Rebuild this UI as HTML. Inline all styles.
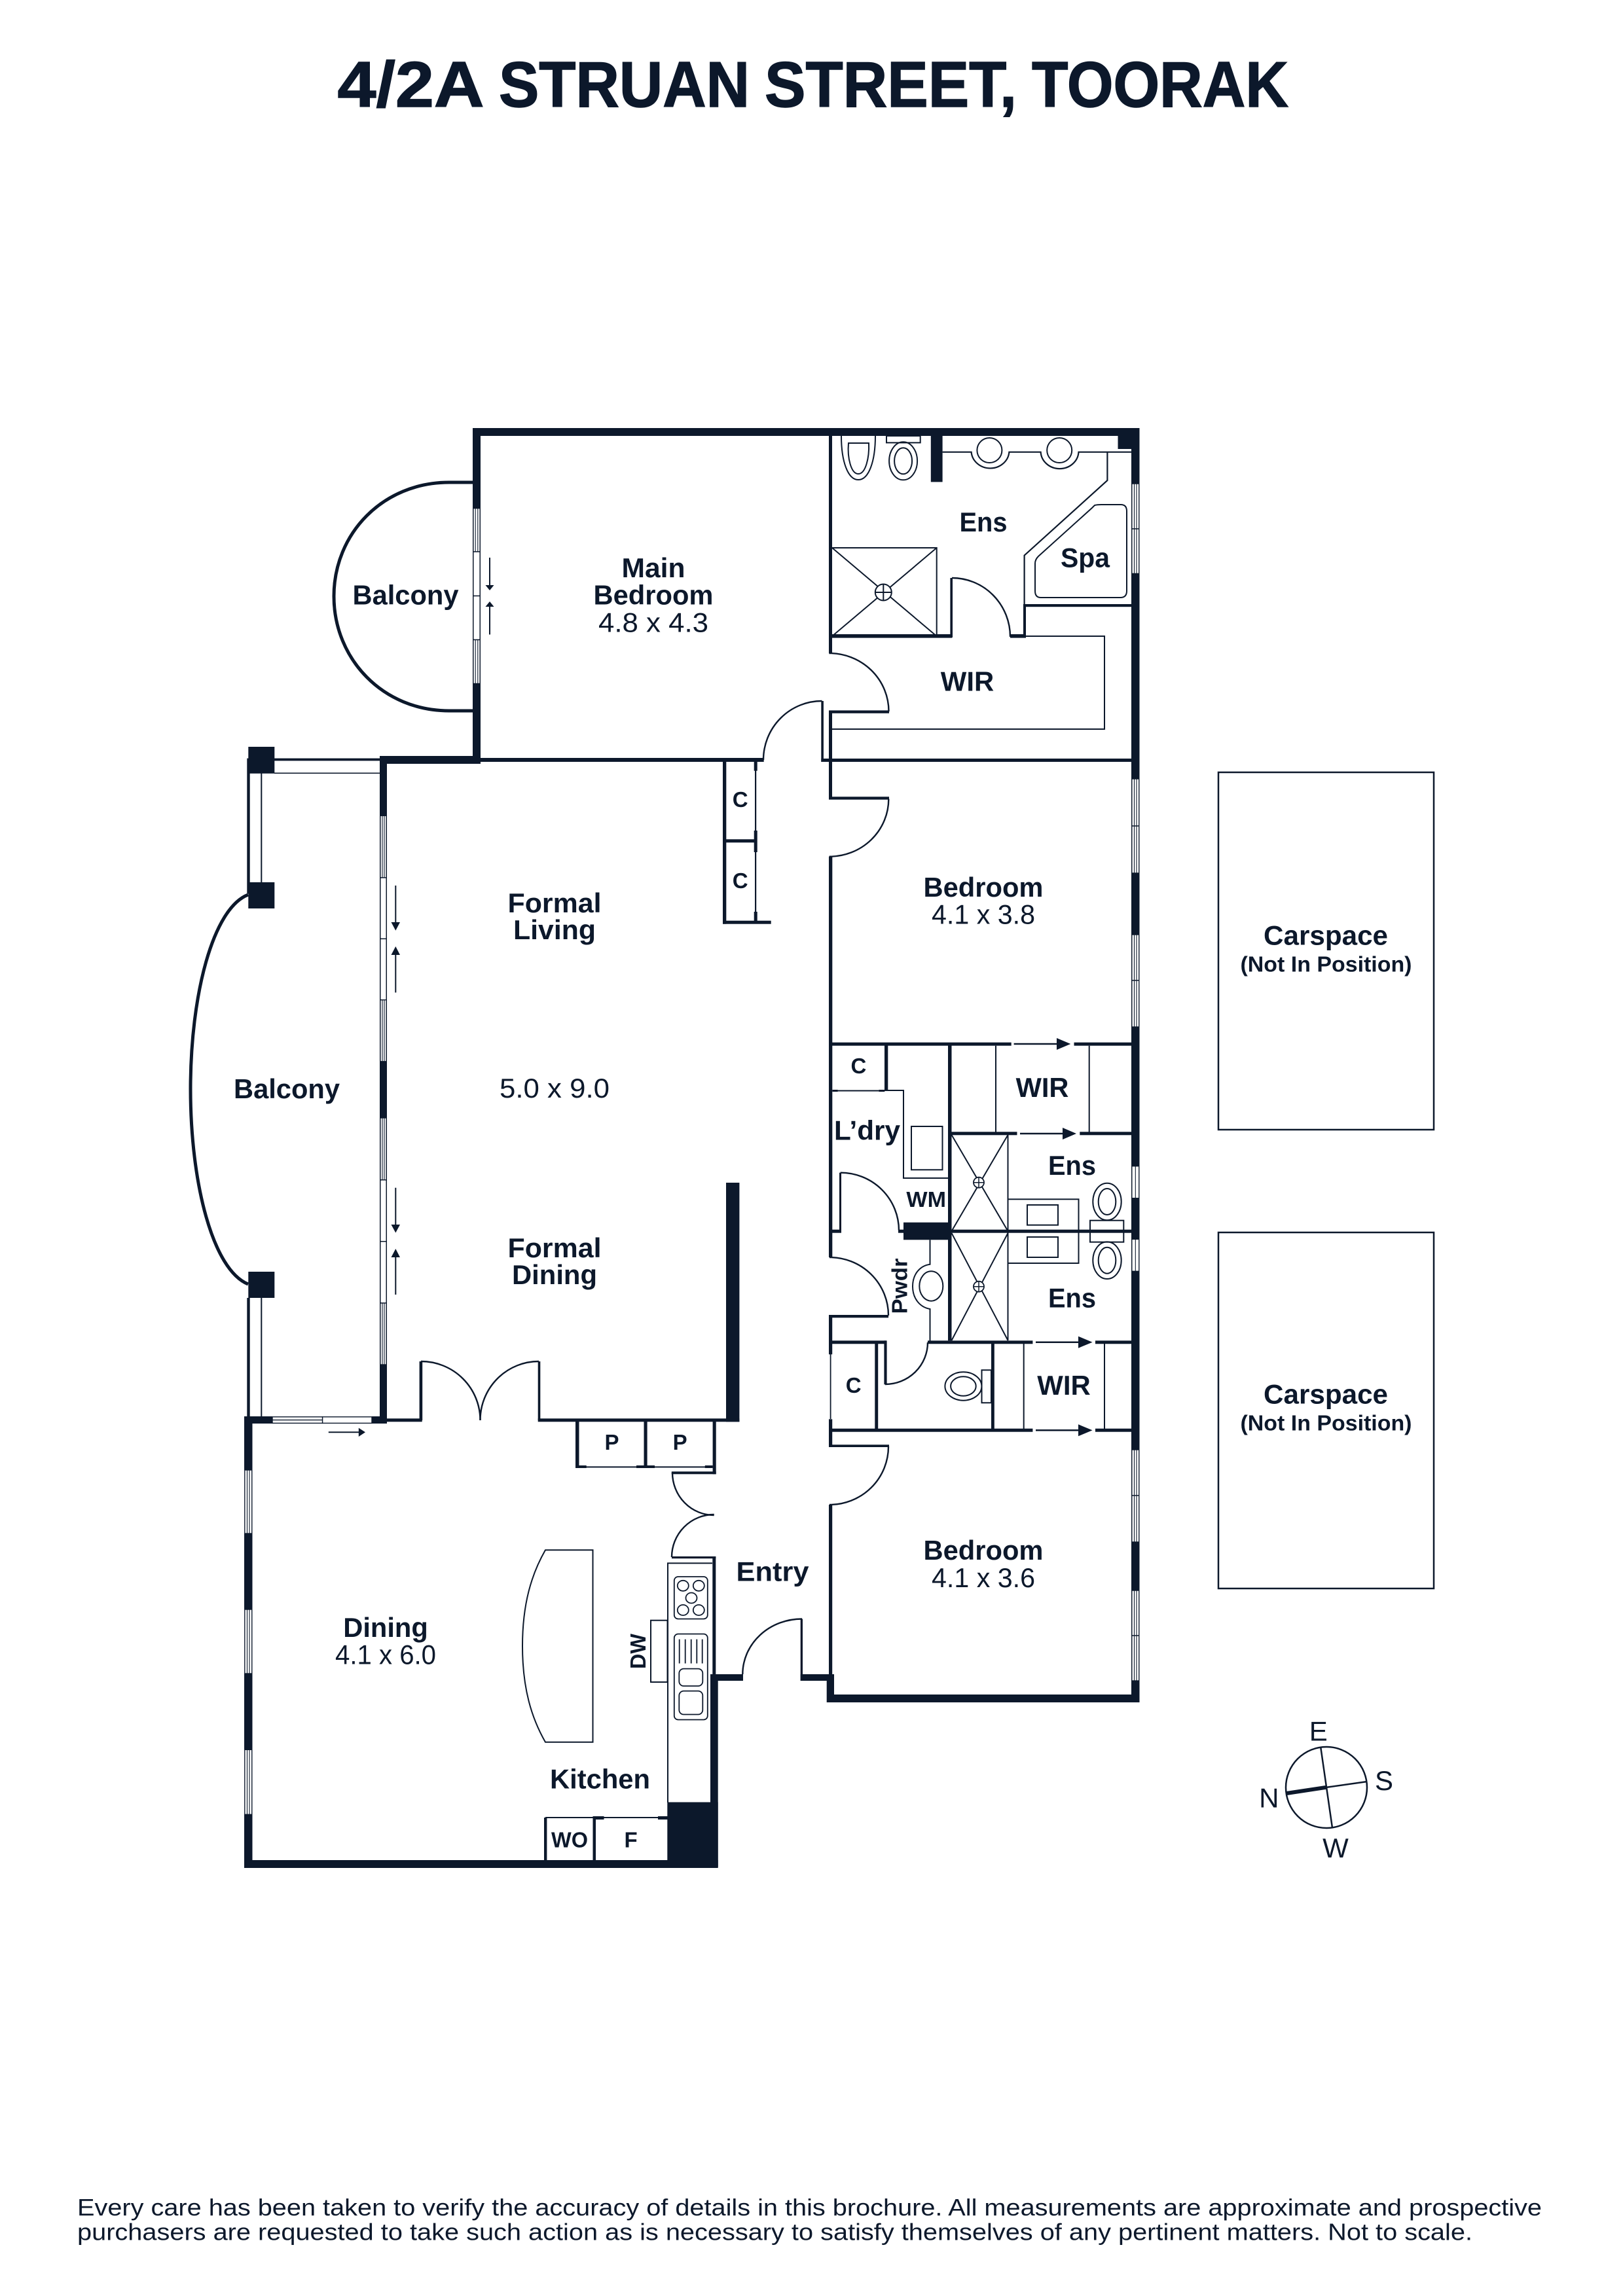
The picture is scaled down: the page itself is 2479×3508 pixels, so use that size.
<!DOCTYPE html>
<html><head><meta charset="utf-8"><title>4/2A Struan Street, Toorak</title>
<style>
html,body{margin:0;padding:0;background:#fff}
svg{display:block}
text{font-family:"Liberation Sans",sans-serif;fill:#0c182b}
.b{font-weight:bold;font-size:42px;text-anchor:middle}
.r{font-size:42px;text-anchor:middle}
.s{font-weight:bold;font-size:33px;text-anchor:middle}
.t{font-weight:bold;font-size:98px;stroke:#0c182b;stroke-width:1.5}
</style></head><body>
<svg width="2479" height="3508" viewBox="0 0 2479 3508" xmlns="http://www.w3.org/2000/svg">
<rect width="2479" height="3508" fill="#fff"/>

<text class="t" x="515.500" y="163" textLength="224" lengthAdjust="spacingAndGlyphs">4/2A</text>
<text class="t" x="762" y="163" textLength="383" lengthAdjust="spacingAndGlyphs">STRUAN</text>
<text class="t" x="1168" y="163" textLength="385" lengthAdjust="spacingAndGlyphs">STREET,</text>
<text class="t" x="1576" y="163" textLength="392" lengthAdjust="spacingAndGlyphs">TOORAK</text>

<!-- solid walls -->
<g fill="#0c182b">
<rect x="722" y="654" width="1018.500" height="12"/>
<rect x="722" y="654" width="12" height="513"/>
<rect x="580" y="1155" width="154" height="12"/>
<rect x="734" y="1158" width="432.700" height="6"/>
<rect x="580" y="1155" width="11" height="1017"/>
<rect x="1728" y="654" width="12.500" height="1947"/>
<rect x="1707.500" y="666" width="21" height="20"/>
<rect x="1421.800" y="666" width="17.800" height="70.400"/>
<rect x="1266" y="666" width="5" height="332"/>
<rect x="1266" y="1085.400" width="92" height="4.400"/>
<rect x="1266" y="1087" width="5" height="133"/>
<rect x="1254.300" y="1071" width="3.600" height="93"/>
<rect x="1254.300" y="1159" width="474" height="5"/>
<rect x="1271" y="969" width="183" height="5.600"/>
<rect x="1451.400" y="883" width="3.600" height="91"/>
<rect x="1543" y="969" width="24" height="5.600"/>
<rect x="1563" y="923" width="4" height="51"/>
<rect x="1563" y="923" width="165" height="4.200"/>

<!-- cupboards by hall -->
<rect x="1104" y="1161" width="5.300" height="250.700"/>
<rect x="1104" y="1406.700" width="73.700" height="5"/>
<rect x="1109" y="1282.300" width="47" height="5"/>
<rect x="1153" y="1163" width="2.200" height="244"/>
<rect x="1151.700" y="1163" width="5" height="14.700"/>
<rect x="1151.700" y="1269" width="5" height="33"/>
<rect x="1151.700" y="1393" width="5" height="14"/>

<rect x="1266" y="1217.300" width="92" height="4.400"/>
<rect x="1266" y="1308.700" width="5.300" height="612.300"/>

<!-- laundry / WIR block -->
<rect x="1266" y="1592.700" width="278.700" height="5"/>
<rect x="1640.500" y="1592.700" width="88.500" height="5"/>
<rect x="1351" y="1597" width="5.300" height="70"/>
<rect x="1271.400" y="1665" width="8.400" height="3"/>
<rect x="1342.300" y="1665" width="9" height="3"/>
<rect x="1448" y="1597" width="5.500" height="451.300"/>
<rect x="1453.500" y="1729.300" width="100" height="5"/>
<rect x="1649.300" y="1729.300" width="79.700" height="5"/>
<rect x="1453.500" y="1878.700" width="275.500" height="5"/>
<rect x="1282" y="1791.700" width="3" height="90"/>
<rect x="1271" y="1878.700" width="14" height="5"/>
<rect x="1372" y="1878.700" width="8" height="5"/>
<rect x="1380" y="1867.700" width="73.500" height="26.600"/>
<rect x="1266" y="2009" width="91" height="4.300"/>
<rect x="1266" y="2009" width="5.200" height="60.300"/>
<rect x="1271" y="2048.300" width="82.500" height="5"/>
<rect x="1350.400" y="2048.300" width="4.200" height="67"/>
<rect x="1417" y="2048.300" width="160.400" height="5"/>
<rect x="1673" y="2048.300" width="56" height="5"/>
<rect x="1336.300" y="2053" width="4.900" height="130"/>
<rect x="1266" y="2182.700" width="311.400" height="5"/>
<rect x="1673" y="2182.700" width="56" height="5"/>
<rect x="1514" y="2053" width="4.800" height="130"/>
<rect x="1266" y="2168.300" width="5.200" height="42"/>
<rect x="1266" y="2207.300" width="92" height="3.700"/>
<rect x="1266" y="2299" width="5.200" height="290"/>
<rect x="1263" y="2589" width="477.500" height="12"/>
<rect x="1262.700" y="2558" width="11.300" height="43"/>

<!-- centre / dining -->
<rect x="1109" y="1807" width="20.400" height="365.300"/>
<rect x="568" y="2164" width="23" height="11"/>
<rect x="373" y="2164" width="43" height="11"/>
<rect x="373" y="2164" width="12.500" height="82"/>
<rect x="373" y="2343" width="12.500" height="116"/>
<rect x="373" y="2557" width="12.500" height="116.300"/>
<rect x="373" y="2772.300" width="12.500" height="81.700"/>
<rect x="373" y="2842" width="723.700" height="12"/>
<rect x="591" y="2167.300" width="53.700" height="5"/>
<rect x="640.600" y="2080" width="4.600" height="90"/>
<rect x="821.700" y="2080" width="3.600" height="90"/>
<rect x="821.700" y="2167.300" width="307.700" height="5"/>
<rect x="879" y="2172" width="5.500" height="71"/>
<rect x="983.500" y="2172" width="5.100" height="70"/>
<rect x="1088.600" y="2172" width="5.100" height="80.300"/>
<rect x="1025.800" y="2248.300" width="67.900" height="4"/>
<rect x="879" y="2239" width="16.700" height="4"/>
<rect x="972" y="2239" width="28" height="4"/>
<rect x="1076.800" y="2239" width="11.800" height="4"/>
<rect x="884" y="2240.400" width="200" height="2"/>
<rect x="1026" y="2378" width="67.300" height="3.200"/>
<rect x="1088.300" y="2378" width="5" height="180"/>
<rect x="1085" y="2558" width="11.700" height="294.500"/>
<rect x="1093" y="2558" width="42" height="10"/>
<rect x="1222.700" y="2473.500" width="3.300" height="94.500"/>
<rect x="1222.700" y="2558" width="51" height="10"/>
<rect x="1019.300" y="2753.500" width="77.400" height="99"/>
<rect x="831" y="2777" width="4.400" height="70"/>
<rect x="905.500" y="2777" width="4.500" height="70"/>
<rect x="905.500" y="2775" width="17" height="5"/>
<rect x="1005" y="2775" width="14.800" height="5"/>
<rect x="833" y="2776" width="186" height="2"/>

<!-- balcony pillars -->
<rect x="379.300" y="1141" width="40" height="40.800"/>
<rect x="379.300" y="1348" width="40" height="40"/>
<rect x="379.300" y="1943" width="40" height="40"/>
<rect x="377.300" y="1158.600" width="4.400" height="207"/>
<rect x="377.300" y="1983" width="4.400" height="182"/>
<rect x="398.300" y="1181" width="2" height="167"/>
<rect x="398.300" y="1983" width="2" height="182"/>
<rect x="419" y="1158.600" width="161" height="3.800"/>
<rect x="419" y="1180.500" width="161" height="1.600"/>
</g>

<!-- windows -->
<g fill="#fff" stroke="#0c182b" stroke-width="1.400">
<rect x="722.800" y="776.600" width="10.400" height="66.400"/><path d="M726.200 776.600V843M729.800 776.600V843" stroke-width="1.100"/>
<rect x="722.800" y="843" width="10.400" height="67.500"/>
<rect x="722.800" y="910.500" width="10.400" height="67"/>
<rect x="722.800" y="977.500" width="10.400" height="67"/><path d="M726.200 977.500V1044.500M729.800 977.500V1044.500" stroke-width="1.100"/>

<rect x="580.800" y="1246.300" width="9.400" height="94.700"/><path d="M584 1246.300V1341M587 1246.300V1341" stroke-width="1.100"/>
<rect x="580.800" y="1341" width="9.400" height="93.400"/>
<rect x="580.800" y="1434.400" width="9.400" height="93.300"/>
<rect x="580.800" y="1527.700" width="9.400" height="94.100"/><path d="M584 1527.700V1621.800M587 1527.700V1621.800" stroke-width="1.100"/>
<rect x="580.800" y="1708" width="9.400" height="94.800"/><path d="M584 1708V1802.800M587 1708V1802.800" stroke-width="1.100"/>
<rect x="580.800" y="1802.800" width="9.400" height="94"/>
<rect x="580.800" y="1896.800" width="9.400" height="94.100"/>
<rect x="580.800" y="1990.900" width="9.400" height="94.100"/><path d="M584 1990.900V2085M587 1990.900V2085" stroke-width="1.100"/>

<rect x="1728.800" y="739" width="11" height="69"/><path d="M1732.500 739V808M1736 739V808" stroke-width="1.100"/>
<rect x="1728.800" y="808" width="11" height="68.400"/><path d="M1732.500 808V876.400M1736 808V876.400" stroke-width="1.100"/>
<rect x="1728.800" y="1190" width="11" height="72"/><path d="M1732.500 1190V1262M1736 1190V1262" stroke-width="1.100"/>
<rect x="1728.800" y="1262" width="11" height="72"/><path d="M1732.500 1262V1334M1736 1262V1334" stroke-width="1.100"/>
<rect x="1728.800" y="1428" width="11" height="70"/><path d="M1732.500 1428V1498M1736 1428V1498" stroke-width="1.100"/>
<rect x="1728.800" y="1498" width="11" height="71"/><path d="M1732.500 1498V1569M1736 1498V1569" stroke-width="1.100"/>
<rect x="1728.800" y="1781.700" width="11" height="49"/><path d="M1734.300 1781.700V1830.700" stroke-width="1.100"/>
<rect x="1728.800" y="1893.300" width="11" height="49"/><path d="M1734.300 1893.300V1942.300" stroke-width="1.100"/>
<rect x="1728.800" y="2215" width="11" height="70"/><path d="M1732.500 2215V2285M1736 2215V2285" stroke-width="1.100"/>
<rect x="1728.800" y="2285" width="11" height="71"/><path d="M1732.500 2285V2356M1736 2285V2356" stroke-width="1.100"/>
<rect x="1728.800" y="2430" width="11" height="69"/><path d="M1732.500 2430V2499M1736 2430V2499" stroke-width="1.100"/>
<rect x="1728.800" y="2499" width="11" height="69"/><path d="M1732.500 2499V2568M1736 2499V2568" stroke-width="1.100"/>

<rect x="373.800" y="2246" width="11" height="97"/><path d="M377.500 2246V2343M381 2246V2343" stroke-width="1.100"/>
<rect x="373.800" y="2459" width="11" height="98"/><path d="M377.500 2459V2557M381 2459V2557" stroke-width="1.100"/>
<rect x="373.800" y="2673.300" width="11" height="99"/><path d="M377.500 2673.300V2772.300M381 2673.300V2772.300" stroke-width="1.100"/>

<rect x="416" y="2164.800" width="76.600" height="9.600"/><path d="M416 2169.600H492.600"/>
<rect x="492.600" y="2164.800" width="75.400" height="9.600"/>
</g>

<!-- thin lines and curves -->
<g fill="none" stroke="#0c182b" stroke-width="2.400">
<path d="M722 737H686C585 737 510 815 510 911C510 1007 585 1086 686 1086H722" stroke-width="5"/>
<path d="M379 1367C325 1388 291 1520 291 1664C291 1808 325 1940 379 1962" stroke-width="5"/>

<!-- doors -->
<path d="M1166 1161A89.500 90 0 0 1 1255.500 1071"/>
<path d="M1454 883A89 90 0 0 1 1543 973"/>
<path d="M1266.400 998A91 89 0 0 1 1357.500 1087"/>
<path d="M1357.300 1220.700A90.600 88 0 0 1 1266.700 1308.700"/>
<path d="M1283.700 1791.700A89.300 88.300 0 0 1 1373 1880"/>
<path d="M1267 1921A90 89 0 0 1 1357 2010"/>
<path d="M1352 2115A65 64 0 0 0 1417 2051"/>
<path d="M1357 2210A90 89 0 0 1 1267 2299"/>
<path d="M1134.300 2558A90.700 84.500 0 0 1 1225 2473.500"/>
<path d="M1027 2250A63.600 65 0 0 0 1090.600 2315"/>
<path d="M1090.700 2314A64.700 65 0 0 0 1026 2379"/>
<path d="M643 2080A90.500 90 0 0 1 733.500 2170"/>
<path d="M823 2080A89.500 90 0 0 0 733.500 2170"/>

<!-- main ensuite -->
<path d="M1567 972H1687V1114H1271" stroke-width="2"/>
<path d="M1271 837H1430.700V972M1271 837L1430.700 972M1430.700 837L1271 972" stroke-width="2"/>
<circle cx="1349.300" cy="905" r="12.500" fill="#fff" stroke-width="2"/>
<path d="M1336.800 905H1361.800M1349.300 892.500V917.500" stroke-width="2"/>
<path d="M1564.600 923V848.600L1691.400 734V690.700H1728M1439.600 690.700H1483.600A29 27 0 0 0 1541.400 690.700H1589.600A29 27 0 0 0 1647.500 690.700H1691.400" stroke-width="2.200"/>
<circle cx="1511.400" cy="688" r="19" stroke-width="2"/>
<circle cx="1618.200" cy="688" r="19" stroke-width="2"/>
<path d="M1285 666C1285 705 1295 733 1311 733C1327 733 1337 705 1337 666" stroke-width="2"/>
<path d="M1296 677H1327C1328 700 1322 724 1311 724C1300 724 1294 700 1296 677Z" stroke-width="2"/>
<rect x="1354" y="666" width="51.700" height="10.400" stroke-width="2"/>
<ellipse cx="1379.600" cy="704.300" rx="21.500" ry="29" stroke-width="2"/>
<ellipse cx="1379.600" cy="704.300" rx="13.500" ry="20" stroke-width="2"/>
<path d="M1672 772Q1676 771 1682 771H1712Q1721 771 1721 781V903Q1721 913 1711 913H1590Q1581 913 1581 903V861Q1581 855 1586 850L1668 776Z" stroke-width="2"/>

<!-- laundry etc -->
<path d="M1279.800 1666.500H1342.300M1356 1666H1380V1800H1448" stroke-width="2"/>
<rect x="1392" y="1721" width="47.500" height="66.300" stroke-width="2"/>
<path d="M1521 1597.700V1730M1663.700 1597.700V1730" stroke-width="2"/>
<path d="M1539.500 1734V2048M1453.500 1734L1539.500 1881M1539.500 1734L1453.500 1881M1453.500 1884L1539.500 2048M1539.500 1884L1453.500 2048" stroke-width="2"/>
<circle cx="1495" cy="1806.700" r="8" fill="#fff" stroke-width="1.800"/>
<path d="M1487 1806.700H1503M1495 1798.700V1814.700" stroke-width="1.500"/>
<circle cx="1495" cy="1965.700" r="8" fill="#fff" stroke-width="1.800"/>
<path d="M1487 1965.700H1503M1495 1957.700V1973.700" stroke-width="1.500"/>
<rect x="1539.500" y="1832.300" width="108" height="97.700" stroke-width="2"/>
<rect x="1569" y="1841" width="47" height="30.700" stroke-width="2"/>
<rect x="1569" y="1890" width="47" height="31" stroke-width="2"/>
<rect x="1665" y="1864.700" width="51.300" height="33" stroke-width="2"/>
<ellipse cx="1691" cy="1836" rx="21.700" ry="28.300" stroke-width="2"/>
<ellipse cx="1691" cy="1836" rx="13.300" ry="20" stroke-width="2"/>
<ellipse cx="1691" cy="1925.700" rx="21.700" ry="28.300" stroke-width="2"/>
<ellipse cx="1691" cy="1925.700" rx="13.300" ry="20" stroke-width="2"/>
<path d="M1420.500 1894.300V1931.700C1404 1934 1394 1948 1394 1965.500C1394 1983 1404 1997 1420.500 2000V2049" stroke-width="2"/>
<ellipse cx="1422.300" cy="1965" rx="18" ry="22.700" stroke-width="2"/>
<path d="M1268.600 2069V2168" stroke-width="1.800"/>
<path d="M1563.700 2053V2183M1687 2053V2183" stroke-width="2"/>
<rect x="1499.500" y="2093.300" width="14.500" height="50" stroke-width="2"/>
<ellipse cx="1471.400" cy="2118" rx="28" ry="21.700" stroke-width="2"/>
<ellipse cx="1471.400" cy="2118" rx="19.300" ry="14.700" stroke-width="2"/>

<!-- kitchen -->
<path d="M1020 2754V2388.400H1088" stroke-width="2"/>
<rect x="1029.800" y="2409" width="51" height="64.500" rx="6" stroke-width="1.800"/>
<ellipse cx="1043.300" cy="2422.800" rx="8.500" ry="8" stroke-width="1.800"/>
<ellipse cx="1067.300" cy="2422.800" rx="8.500" ry="8" stroke-width="1.800"/>
<ellipse cx="1056" cy="2441.500" rx="8.500" ry="8" stroke-width="1.800"/>
<ellipse cx="1043.300" cy="2460" rx="8.500" ry="8" stroke-width="1.800"/>
<ellipse cx="1067.300" cy="2460" rx="8.500" ry="8" stroke-width="1.800"/>
<rect x="1029.800" y="2496.500" width="51" height="131" rx="6" stroke-width="1.800"/>
<path d="M1037.700 2504.600V2541.500M1046.700 2504.600V2541.500M1055.700 2504.600V2541.500M1064.300 2504.600V2541.500M1072.700 2504.600V2541.500" stroke-width="1.800"/>
<rect x="1037.300" y="2549.600" width="36" height="26.400" rx="7" stroke-width="1.800"/>
<rect x="1037.300" y="2583.600" width="36" height="35.900" rx="7" stroke-width="1.800"/>
<rect x="994" y="2475.700" width="25.500" height="94.300" stroke-width="2"/>
<path d="M905.500 2368.300H833C812 2405 798 2450 798 2515C798 2580 812 2625 833 2661.700H905.500Z" stroke-width="2"/>

<!-- carspaces -->
<rect x="1861" y="1180" width="329" height="546" stroke-width="2.500"/>
<rect x="1861" y="1883" width="329" height="544" stroke-width="2.500"/>

<!-- compass -->
<circle cx="2026" cy="2731" r="62" stroke-width="2.500"/>
<path d="M2017.300 2670L2035 2792.700M2026.700 2730.700L2088.300 2722" stroke-width="2.500"/>
<path d="M2026.700 2730.700L1965 2740" stroke-width="6"/>

<!-- arrow shafts -->
<path d="M748 852V896M748 925V969.500M604.300 1353V1410M604.300 1458V1516.500M604.300 1814.700V1872M604.300 1920V1978M501.800 2188.300H549" stroke-width="2"/>
<path d="M1548.600 1595H1616M1558 1732H1625M1582 2050.700H1649M1582 2185.300H1649" stroke-width="2.500"/>
</g>

<!-- arrow heads -->
<g fill="#0c182b">
<path d="M741.500 894H754.500L748 902ZM741.500 927H754.500L748 919Z"/>
<path d="M597.500 1409H611L604.300 1421.800ZM597.500 1459H611L604.300 1446ZM597.500 1871H611L604.300 1883.500ZM597.500 1921H611L604.300 1908Z"/>
<path d="M547.800 2181.600L558 2188.300L547.800 2195Z"/>
<path d="M1614 1586L1635.300 1595L1614 1604ZM1623 1723L1644 1732L1623 1741ZM1647 2041.700L1668.600 2050.700L1647 2059.700ZM1647 2176.300L1668.600 2185.300L1647 2194.300Z"/>
</g>

<!-- labels -->
<text class="b" x="619.500" y="923.500" textLength="162" lengthAdjust="spacingAndGlyphs">Balcony</text>
<text class="b" x="998" y="882" textLength="97" lengthAdjust="spacingAndGlyphs">Main</text>
<text class="b" x="998" y="923.500" textLength="183" lengthAdjust="spacingAndGlyphs">Bedroom</text>
<text class="r" x="998" y="965.600" textLength="168" lengthAdjust="spacingAndGlyphs">4.8 x 4.3</text>
<text class="b" x="1502" y="812" textLength="73" lengthAdjust="spacingAndGlyphs">Ens</text>
<text class="b" x="1657.500" y="866.400" textLength="75" lengthAdjust="spacingAndGlyphs">Spa</text>
<text class="b" x="1477.500" y="1055.700" textLength="81.400" lengthAdjust="spacingAndGlyphs">WIR</text>
<text class="s" x="1130.700" y="1233">C</text>
<text class="s" x="1130.700" y="1357">C</text>
<text class="b" x="1502" y="1370" textLength="183" lengthAdjust="spacingAndGlyphs">Bedroom</text>
<text class="r" x="1502" y="1411.700" textLength="158" lengthAdjust="spacingAndGlyphs">4.1 x 3.8</text>
<text class="b" x="847" y="1394" textLength="143" lengthAdjust="spacingAndGlyphs">Formal</text>
<text class="b" x="847" y="1435" textLength="126" lengthAdjust="spacingAndGlyphs">Living</text>
<text class="r" x="847" y="1677" textLength="168" lengthAdjust="spacingAndGlyphs">5.0 x 9.0</text>
<text class="b" x="847" y="1921" textLength="143" lengthAdjust="spacingAndGlyphs">Formal</text>
<text class="b" x="847" y="1962" textLength="130" lengthAdjust="spacingAndGlyphs">Dining</text>
<text class="b" x="438" y="1678" textLength="162" lengthAdjust="spacingAndGlyphs">Balcony</text>
<text class="s" x="1311.400" y="1640">C</text>
<text class="b" x="1592" y="1676" textLength="80.800" lengthAdjust="spacingAndGlyphs">WIR</text>
<text class="b" x="1324.500" y="1741.700" textLength="101" lengthAdjust="spacingAndGlyphs">L’dry</text>
<text class="b" x="1637.500" y="1795" textLength="73" lengthAdjust="spacingAndGlyphs">Ens</text>
<text class="s" x="1414.700" y="1844" textLength="60.600" lengthAdjust="spacingAndGlyphs">WM</text>
<text class="b" x="1637.500" y="1997.300" textLength="73" lengthAdjust="spacingAndGlyphs">Ens</text>
<text class="s" transform="translate(1385.400 1965) rotate(-90)" textLength="85" lengthAdjust="spacingAndGlyphs">Pwdr</text>
<text class="s" x="1303.700" y="2128">C</text>
<text class="b" x="1625" y="2131" textLength="81.400" lengthAdjust="spacingAndGlyphs">WIR</text>
<text class="s" x="934.500" y="2215">P</text>
<text class="s" x="1038.600" y="2215">P</text>
<text class="b" x="1502" y="2383" textLength="183" lengthAdjust="spacingAndGlyphs">Bedroom</text>
<text class="r" x="1502" y="2425" textLength="158" lengthAdjust="spacingAndGlyphs">4.1 x 3.6</text>
<text class="b" x="1180" y="2415.600" textLength="111" lengthAdjust="spacingAndGlyphs">Entry</text>
<text class="b" x="589" y="2501" textLength="129.500" lengthAdjust="spacingAndGlyphs">Dining</text>
<text class="r" x="589" y="2542.300" textLength="154" lengthAdjust="spacingAndGlyphs">4.1 x 6.0</text>
<text class="s" transform="translate(986 2523) rotate(-90)" textLength="54" lengthAdjust="spacingAndGlyphs">DW</text>
<text class="b" x="916.500" y="2732.700" textLength="153" lengthAdjust="spacingAndGlyphs">Kitchen</text>
<text class="s" x="870" y="2822.300" textLength="56" lengthAdjust="spacingAndGlyphs">WO</text>
<text class="s" x="963.600" y="2822.300">F</text>

<text class="b" x="2025" y="1443.300" textLength="190" lengthAdjust="spacingAndGlyphs">Carspace</text>
<text class="s" x="2025.500" y="1484.300" textLength="262" lengthAdjust="spacingAndGlyphs">(Not In Position)</text>
<text class="b" x="2025" y="2144.300" textLength="190" lengthAdjust="spacingAndGlyphs">Carspace</text>
<text class="s" x="2025.500" y="2185.300" textLength="262" lengthAdjust="spacingAndGlyphs">(Not In Position)</text>

<text class="r" x="2013.700" y="2659.300">E</text>
<text class="r" x="2114" y="2735">S</text>
<text class="r" x="1938.300" y="2761.700">N</text>
<text class="r" x="2040" y="2838">W</text>

<text x="118" y="3385" font-size="36" textLength="2237" lengthAdjust="spacingAndGlyphs">Every care has been taken to verify the accuracy of details in this brochure. All measurements are approximate and prospective</text>
<text x="118" y="3422.700" font-size="36" textLength="2131" lengthAdjust="spacingAndGlyphs">purchasers are requested to take such action as is necessary to satisfy themselves of any pertinent matters. Not to scale.</text>
</svg>
</body></html>
